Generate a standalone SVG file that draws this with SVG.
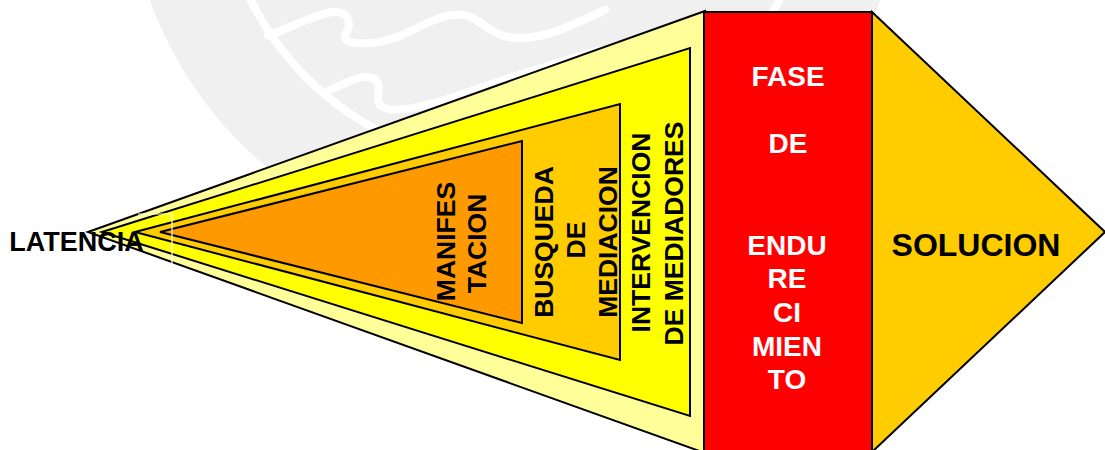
<svg xmlns="http://www.w3.org/2000/svg" width="1105" height="450" viewBox="0 0 1105 450">
<style>
.shape{stroke:#000;stroke-width:2;stroke-linejoin:miter}
.t{font-family:"Liberation Sans",Arial,sans-serif;font-weight:bold}
.blk{fill:#000}
.wht{fill:#fff}
.wm{fill:none;stroke:#fff;stroke-width:8;stroke-linecap:round}
</style>
<rect width="1105" height="450" fill="#fff"/>
<g id="watermark">
<circle cx="515" cy="-131" r="388" fill="#f0f0f0"/>
<circle cx="515" cy="-131" r="295" class="wm"/>
<path class="wm" d="M268,36 C290,28 320,12 335,12 C350,12 352,25 345,35 C340,46 375,46 400,36 C430,22 450,10 468,16 C488,24 492,38 520,38 C548,38 575,24 605,10"/>
<path class="wm" d="M330,90 C345,84 360,74 372,78 C385,84 374,98 380,105 C390,116 430,106 480,88 C520,74 560,62 600,50"/>
</g>
<g id="intervencion">
<polygon class="shape" points="88,232 705,11 705,453" fill="#ffff99"/>
</g>
<g id="intervencion-inner">
<polygon class="shape" points="102,232 690,48 690,416" fill="#ffff00"/>
<text class="t blk" font-size="26.5" text-anchor="middle" transform="translate(650,232.5) rotate(-90)">INTERVENCION</text>
<text class="t blk" font-size="26.5" text-anchor="middle" transform="translate(683,233.5) rotate(-90)">DE MEDIADORES</text>
</g>
<g id="busqueda">
<polygon class="shape" points="135,232 620,104 620,360" fill="#ffcc00"/>
<text class="t blk" font-size="26.5" text-anchor="middle" transform="translate(553,242) rotate(-90)">BUSQUEDA</text>
<text class="t blk" font-size="26.5" text-anchor="middle" transform="translate(585,240) rotate(-90)">DE</text>
<text class="t blk" font-size="26.5" text-anchor="middle" transform="translate(617,242) rotate(-90)">MEDIACION</text>
</g>
<g id="manifestacion">
<polygon class="shape" points="160,232 522,141 522,323" fill="#ff9900"/>
<text class="t blk" font-size="26.5" text-anchor="middle" transform="translate(455,241.5) rotate(-90)">MANIFES</text>
<text class="t blk" font-size="26.5" text-anchor="middle" transform="translate(486,243.5) rotate(-90)">TACION</text>
</g>
<g id="latencia">
<polyline points="138,214 172,214 172,264" fill="none" stroke="#fff" stroke-width="1.2"/>
<text class="t blk" font-size="27" x="76.5" y="251" text-anchor="middle">LATENCIA</text>
</g>
<g id="endurecimiento">
<rect class="shape" x="704" y="12" width="168" height="450" fill="#ff0000"/>
<g class="t wht" font-size="28" text-anchor="middle">
<text x="788" y="86">FASE</text>
<text x="788" y="153">DE</text>
<text x="787" y="255">ENDU</text>
<text x="787" y="288">RE</text>
<text x="787" y="322">CI</text>
<text x="787" y="356">MIEN</text>
<text x="787" y="389">TO</text>
</g>
</g>
<g id="solucion">
<polygon class="shape" points="872,12 1105,232 872,452" fill="#ffcc00"/>
<text class="t blk" font-size="32" x="976" y="256" text-anchor="middle">SOLUCION</text>
</g>
<g id="connectors"/>
</svg>
